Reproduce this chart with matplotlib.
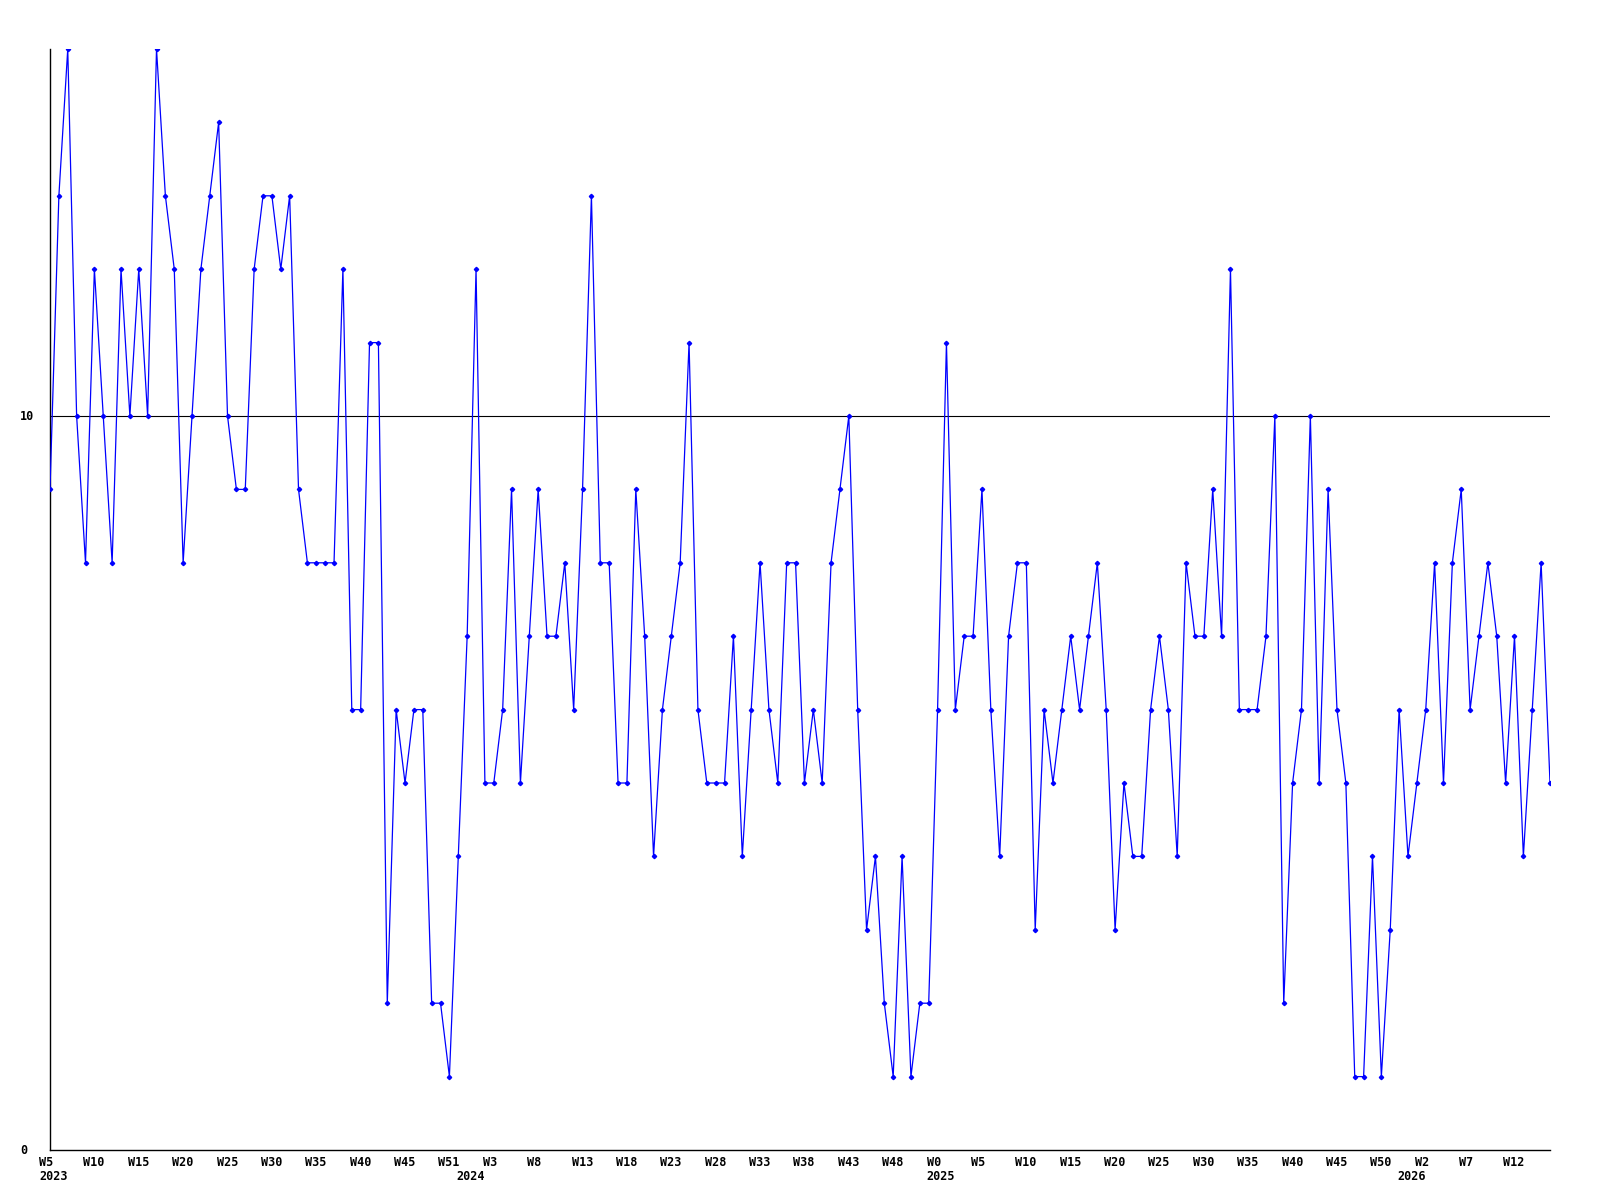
import numpy as np
import matplotlib
matplotlib.use("Agg")
import matplotlib.pyplot as plt
import matplotlib.transforms as mtransforms

# ---------------- data ----------------
# weekly values, 2023 W5 .. 2026 W15
values = [
    9, 13, 15, 10, 8, 12, 10, 8, 12, 10, 12, 10, 15, 13, 12, 8, 10, 12, 13, 14,
    10, 9, 9, 12, 13, 13, 12, 13, 9,
    8, 8, 8, 8, 12, 6, 6, 11, 11, 2, 6, 5, 6, 6, 2, 2, 1, 4, 7, 12, 5,
    5, 6, 9, 5, 7, 9, 7,
    7, 8, 6, 9, 13, 8, 8, 5, 5, 9, 7, 4, 6, 7, 8, 11, 6, 5, 5, 5, 7, 4,
    6, 8, 6, 5, 8, 8,
    5, 6, 5, 8, 9, 10, 6, 3, 4, 2, 1, 4, 1, 2, 2, 6, 11, 6, 7, 7, 9, 6,
    4, 7, 8, 8, 3, 6,
    5, 6, 7, 6, 7, 8, 6, 3, 5, 4, 4, 6, 7, 6, 4, 8, 7, 7, 9, 7, 12, 6,
    6, 6, 7, 10, 2, 5,
    6, 10, 5, 9, 6, 5, 1, 1, 4, 1, 3, 6, 4, 5, 6, 8, 5, 8, 9, 6, 7, 8,
    7, 5, 7, 4, 6, 8, 5,
]
week_labels = ["W5", "W10", "W15", "W20", "W25", "W30", "W35", "W40", "W45",
               "W51", "W3", "W8", "W13", "W18", "W23", "W28", "W33", "W38",
               "W43", "W48", "W0", "W5", "W10", "W15", "W20", "W25", "W30",
               "W35", "W40", "W45", "W50", "W2", "W7", "W12"]
LABEL_EVERY = 5
year_labels = ["2023", "2024", "2025", "2026"]
year_index = [0, 47, 100, 153]          # first point of each year
y_labels = [0, 10]
REF_LEVEL = 10
Y_MAX = 15
# --------------------------------------

x = np.arange(len(values))
FONT = dict(family="DejaVu Sans Mono", fontweight="bold", fontsize=8.5)

fig = plt.figure(figsize=(16, 12), dpi=100)
ax = fig.add_axes([50 / 1600, 50 / 1200, 1500 / 1600, 1101 / 1200])

ax.plot(x, values, "-", color="#0000ff", lw=0.9, marker="D", ms=2.2,
        mfc="#0000ff", mec="#0000ff", zorder=3)
ax.axhline(REF_LEVEL, color="black", lw=0.8, zorder=2)

ax.set_xlim(0, len(values) - 1)
ax.set_ylim(0, Y_MAX)
ax.set_xticks([]); ax.set_yticks([])
for side in ("top", "right"):
    ax.spines[side].set_visible(False)
for side in ("left", "bottom"):
    ax.spines[side].set_linewidth(1.0)
    ax.spines[side].set_color("black")

# x labels: left-aligned a little before their point, week row then year row
base = mtransforms.blended_transform_factory(ax.transData, ax.transAxes)
week_tr = mtransforms.offset_copy(base, fig=fig, x=-11, y=-12, units="dots")
year_tr = mtransforms.offset_copy(base, fig=fig, x=-11, y=-27, units="dots")
for i, lab in enumerate(week_labels):
    ax.text(i * LABEL_EVERY, 0, lab, transform=week_tr, ha="left", va="center", **FONT)
for i, lab in zip(year_index, year_labels):
    ax.text(i, 0, lab, transform=year_tr, ha="left", va="center", **FONT)

# y labels at the far left
ybase = mtransforms.blended_transform_factory(ax.transAxes, ax.transData)
y_tr = mtransforms.offset_copy(ybase, fig=fig, x=-30, y=0, units="dots")
for v in y_labels:
    ax.text(0, v, str(v), transform=y_tr, ha="left", va="center", **FONT)

fig.savefig("out.png", dpi=100)
